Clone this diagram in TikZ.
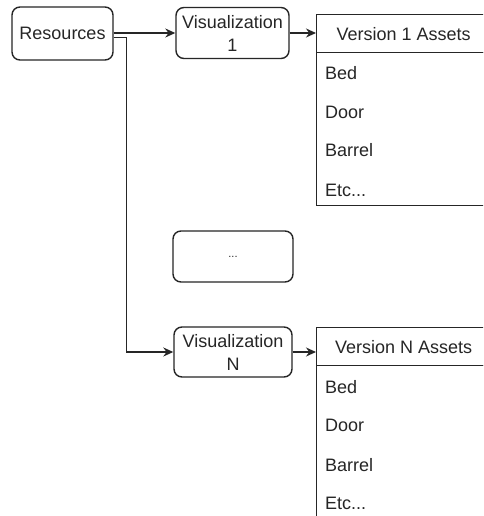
\documentclass[tikz,border=0pt]{standalone}
\usepackage{fontspec}
\setmainfont{Liberation Sans}
\usetikzlibrary{arrows.meta}
\begin{document}
\begin{tikzpicture}[x=1pt,y=-1pt,
  every node/.style={font=\fontsize{18}{23}\selectfont, text=black!85, inner sep=0pt},
  box/.style={draw=black!85, line width=1.4pt, rounded corners=8pt, align=center},
  listhead/.style={draw=black!85, line width=1.4pt, minimum width=174, minimum height=38, anchor=north west},
  listbody/.style={draw=black!85, line width=1.4pt, minimum width=174, anchor=north west},
  item/.style={anchor=west},
  arr/.style={draw=black!85, line width=1.4pt, -{Stealth[length=10pt,width=9pt]}},
  wire/.style={draw=black!85, line width=1.4pt}
]
\clip (0,0) rectangle (483,516);
\fill[white] (0,0) rectangle (483,516);

% source and visualization boxes
\node[box, minimum width=101, minimum height=53] (res) at (62.5,33.5) {Resources};
\node[box, minimum width=113, minimum height=51] (viz1) at (232.5,33) {Visualization\\1};
\node[box, minimum width=120, minimum height=51] (dots) at (233,256.5) {\fontsize{11}{13}\selectfont ...};
\node[box, minimum width=118, minimum height=50] (vizN) at (233,352) {Visualization\\N};

% asset list for version 1
\node[listhead] (h1) at (316,14) {Version 1 Assets};
\node[listbody, minimum height=153] (b1) at (316,52) {};
\node[item] (b1a) at (325,73) {Bed};
\node[item] (b1b) at (325,112) {Door};
\node[item] (b1c) at (325,150) {Barrel};
\node[item] (b1d) at (325,190) {Etc...};

% asset list for version N
\node[listhead] (hN) at (316,327) {Version N Assets};
\node[listbody, minimum height=200] (bN) at (316,365) {};
\node[item] (bNa) at (325,387) {Bed};
\node[item] (bNb) at (325,425) {Door};
\node[item] (bNc) at (325,465) {Barrel};
\node[item] (bNd) at (325,503) {Etc...};

% connectors
\draw[arr] (res.east |- viz1.west) -- (viz1.west);
\draw[arr] ([yshift=-4pt]res.east) -- ++(13,0) |- (vizN.west);
\draw[arr] (viz1.east) -- (viz1.east -| h1.west);
\draw[arr] (vizN.east) -- (vizN.east -| hN.west);
\end{tikzpicture}
\end{document}
